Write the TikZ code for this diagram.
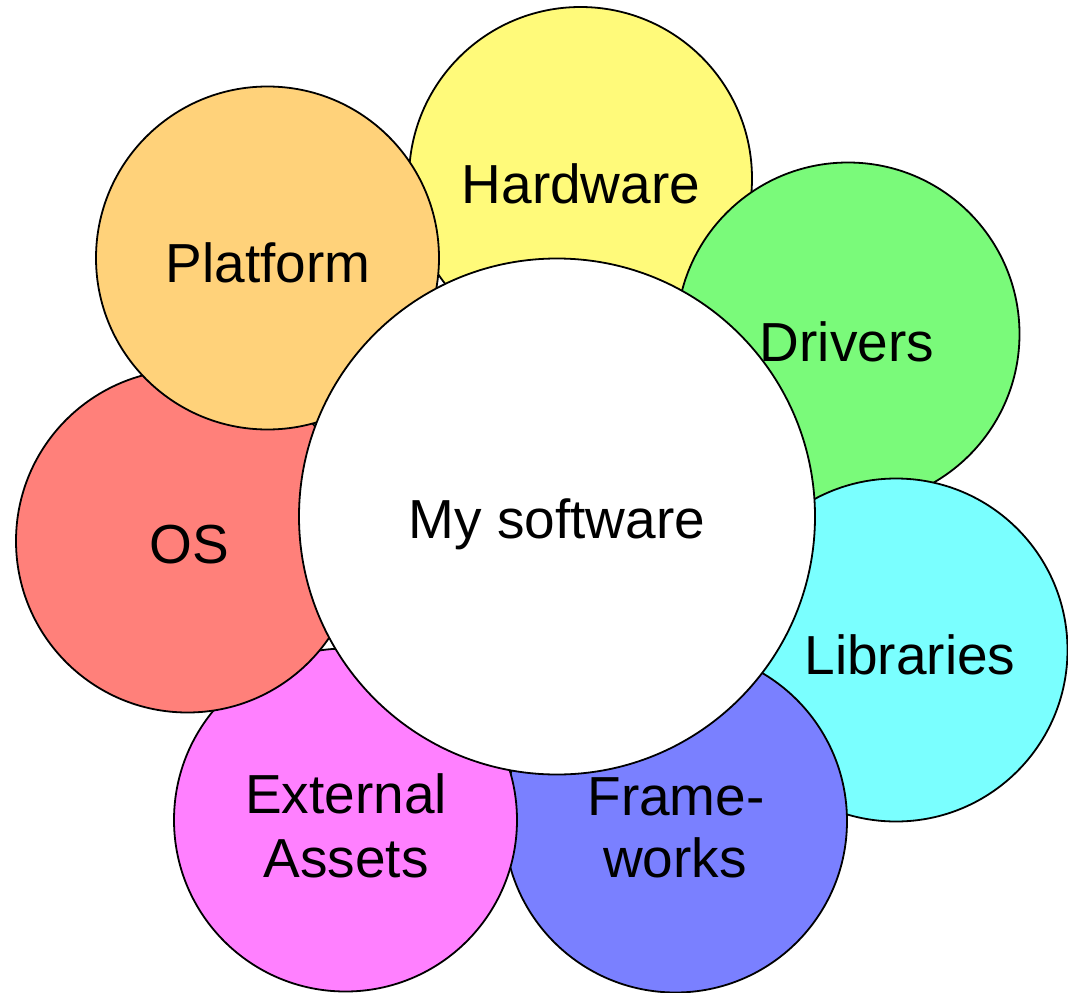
\documentclass[tikz,border=0pt]{standalone}
\usepackage{fontspec}
\setmainfont{Liberation Sans}
\definecolor{cHard}{RGB}{255,250,122}
\definecolor{cDrv}{RGB}{122,250,122}
\definecolor{cLib}{RGB}{122,255,255}
\definecolor{cFrm}{RGB}{122,128,255}
\definecolor{cExt}{RGB}{255,128,255}
\definecolor{cOS}{RGB}{255,128,122}
\definecolor{cPlat}{RGB}{255,210,122}
\tikzset{
  petal/.style={circle, draw=black, line width=1.8pt, inner sep=0pt, minimum size=343pt},
  hub/.style={circle, draw=black, line width=1.8pt, fill=white, inner sep=0pt, minimum size=516pt},
  lbl/.style={font=\fontsize{55pt}{64pt}\selectfont, anchor=base, inner sep=0pt}
}
\begin{document}
\begin{tikzpicture}[x=1pt, y=-1pt]
\useasboundingbox (0,0) rectangle (1068,993);
% petals, back to front
\node[petal, fill=cHard] (hw) at (580.5,178.5) {};
\node[petal, fill=cDrv] (drv) at (848,334) {};
\node[petal, fill=cLib] (lib) at (896,650) {};
\node[petal, fill=cFrm] (frm) at (675.5,821) {};
\node[petal, fill=cExt] (ext) at (345.5,820) {};
\node[petal, fill=cOS] (os) at (187.5,541) {};
\node[petal, fill=cPlat] (plat) at (267.5,258) {};
% centre
\node[hub] (sw) at (557,516.5) {};
% labels
\node[lbl] (thw) at (581,203) {Hardware};
\node[lbl] (tplat) at (268,282) {Platform};
\node[lbl] (tdrv) at (847,361) {Drivers};
\node[lbl] (tos) at (189,563) {OS};
\node[lbl] (tsw) at (557,538) {My software};
\node[lbl] (tlib) at (910,674) {Libraries};
\node[lbl] (tfrm1) at (676,815) {Frame-};
\node[lbl] (tfrm2) at (675,877) {works};
\node[lbl] (text1) at (346,813) {External};
\node[lbl] (text2) at (346,877) {Assets};
\end{tikzpicture}
\end{document}
